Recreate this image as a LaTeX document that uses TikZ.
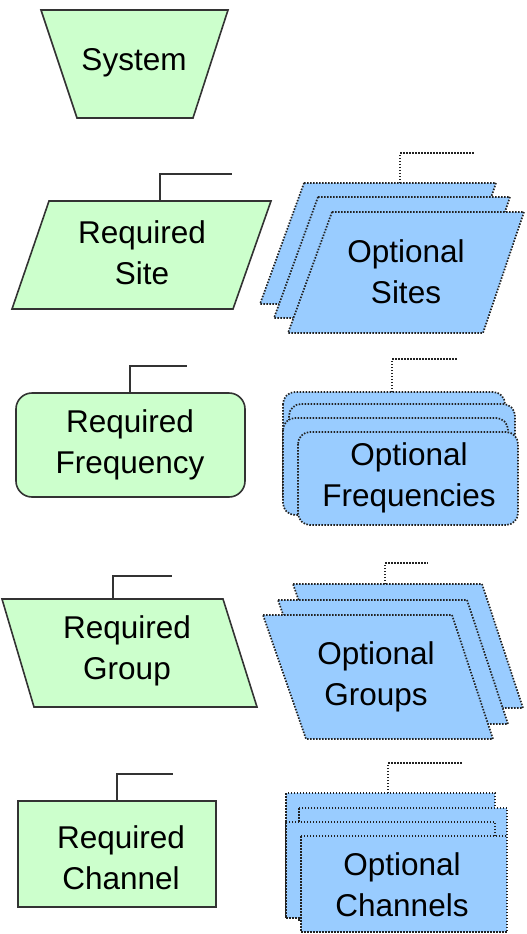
\documentclass[tikz,border=0pt]{standalone}
\usepackage{fontspec}
\setmainfont{Liberation Sans}
\definecolor{reqgreen}{HTML}{CCFFCC}
\definecolor{optblue}{HTML}{99CCFF}
\definecolor{edge}{HTML}{333333}
\definecolor{dotedge}{HTML}{222222}
\begin{document}
\begin{tikzpicture}[x=1pt,y=-1pt,
  req/.style={draw=edge, fill=reqgreen, line width=1.6pt, line join=miter},
  opt/.style={draw=dotedge, fill=optblue, line width=1.7pt, dash pattern=on 1.5pt off 1.5pt},
  tab/.style={draw=edge, line width=1.6pt},
  opttab/.style={draw=dotedge, line width=1.7pt, dash pattern=on 1.5pt off 1.5pt},
  lbl/.style={font=\fontsize{31.5}{41}\selectfont, align=center, inner sep=0pt, text=black}]
\useasboundingbox (0,0) rectangle (527,934);

% System
\path[req] (41,10) -- (228,10) -- (193,118) -- (77,118) -- cycle;
\node[lbl] (system) at (134,63) {System};

% Required Site
\path[req] (49,201) -- (271,201) -- (233,309) -- (12,309) -- cycle;
\node[lbl] (reqsite) at (142,253) {Required\\Site};
\coordinate (reqsiteT) at (160,201);
\coordinate (reqsiteE) at (232,174);
\draw[tab] (reqsiteT) |- (reqsiteE);

% Optional Sites
\path[opt] (304,183) -- (496,183) -- (455,304) -- (260,304) -- cycle;
\path[opt] (318,197) -- (510,197) -- (469,318) -- (274,318) -- cycle;
\path[opt] (332,212) -- (524,212) -- (483,333) -- (288,333) -- cycle;
\node[lbl] (optsite) at (406,272) {Optional\\Sites};
\coordinate (optsiteT) at (400,183);
\coordinate (optsiteE) at (475,153);
\draw[opttab] (optsiteT) |- (optsiteE);

% Required Frequency
\path[req, rounded corners=16pt] (16,393) rectangle (245,497);
\node[lbl] (reqfreq) at (130,445) {Required\\Frequency};
\coordinate (reqfreqT) at (130,393);
\coordinate (reqfreqE) at (187,366);
\draw[tab] (reqfreqT) |- (reqfreqE);

% Optional Frequencies
\path[opt, rounded corners=12pt] (283,392) rectangle (505,508);
\path[opt, rounded corners=12pt] (289,404) rectangle (515,514);
\path[opt, rounded corners=12pt] (283,418) rectangle (508,515);
\path[opt, rounded corners=12pt] (298,432) rectangle (518,525);
\node[lbl] (optfreq) at (409,478) {Optional\\Frequencies};
\coordinate (optfreqT) at (392,392);
\coordinate (optfreqE) at (457,359);
\draw[opttab] (optfreqT) |- (optfreqE);

% Required Group
\path[req] (2,599) -- (223,599) -- (257,707) -- (34,707) -- cycle;
\node[lbl] (reqgroup) at (127,651) {Required\\Group};
\coordinate (reqgroupT) at (113,599);
\coordinate (reqgroupE) at (172,576);
\draw[tab] (reqgroupT) |- (reqgroupE);

% Optional Groups
\path[opt] (293,584) -- (482,584) -- (523,708) -- (336,708) -- cycle;
\path[opt] (278,600) -- (467,600) -- (508,724) -- (321,724) -- cycle;
\path[opt] (263,615) -- (452,615) -- (493,739) -- (306,739) -- cycle;
\node[lbl] (optgroup) at (376,677) {Optional\\Groups};
\coordinate (optgroupT) at (385,584);
\coordinate (optgroupE) at (428,563);
\draw[opttab] (optgroupT) |- (optgroupE);

% Required Channel
\path[req] (18,801) rectangle (216,907);
\node[lbl] (reqchan) at (121,858) {Required\\Channel};
\coordinate (reqchanT) at (117,801);
\coordinate (reqchanE) at (173,774);
\draw[tab] (reqchanT) |- (reqchanE);

% Optional Channels
\path[opt] (286,793) rectangle (495,917);
\path[opt] (299,808) rectangle (507,920);
\path[opt] (286,822) rectangle (495,918);
\path[opt] (301,836) rectangle (507,932);
\node[lbl] (optchan) at (402,885) {Optional\\Channels};
\coordinate (optchanT) at (388,793);
\coordinate (optchanE) at (462,763);
\draw[opttab] (optchanT) |- (optchanE);
\end{tikzpicture}
\end{document}
